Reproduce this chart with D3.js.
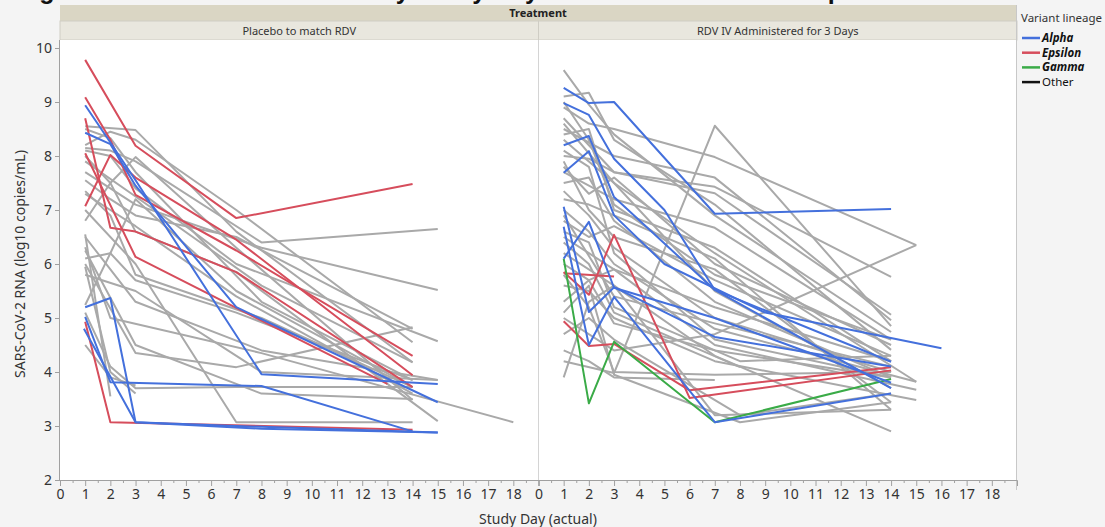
<!DOCTYPE html>
<html>
<head>
<meta charset="utf-8">
<script src="https://cdn.jsdelivr.net/npm/d3@7"></script>
<style>
  body { margin: 0; background: #f4f4f4; }
  svg { display: block; font-family: "Noto Sans", "Open Sans", sans-serif; }
</style>
</head>
<body>
<div id="chart"></div>
<script>
// axis ticks and labels
var dayTicks = d3.range(0, 19);
var rnaTicks = d3.range(2, 11);
var panelNames = ["Placebo to match RDV", "RDV IV Administered for 3 Days"];
var variantNames = ["Alpha", "Epsilon", "Gamma", "Other"];
var variantColors = ["#4470dc", "#d64d5c", "#3aab47", "#a9a9a9"];

// each subject: [study day, log10 copies/mL] pairs
var placeboAlpha = [
  [[1, 8.94], [2, 8.25], [3, 7.55], [8, 3.96], [15, 3.78]],
  [[1, 8.43], [2, 8.22], [3, 7.45], [7, 5.2], [15, 3.44]],
  [[1, 5.2], [2, 5.37], [3, 3.07], [7, 3.0], [15, 2.88]],
  [[1, 5.02], [2, 3.81], [8, 3.74], [14, 2.9]],
  [[0.95, 4.8], [3, 3.07], [8, 2.95], [15, 2.88]]
];

var placeboEpsilon = [
  [[1, 9.78], [3, 8.19], [7, 6.85], [14, 7.48]],
  [[1, 9.09], [2, 8.3], [3, 7.28], [7, 6.25], [14, 4.3]],
  [[1, 8.7], [2, 6.67], [3, 6.6], [7, 5.85], [14, 3.72]],
  [[1, 8.05], [3, 6.13], [8, 4.95], [13, 3.78]],
  [[1, 7.07], [2, 8.02], [3, 7.6], [7, 6.45], [14, 3.94]],
  [[1, 4.93], [2, 3.07], [14, 2.93]]
];

var placeboOther = [
  [[1, 8.55], [3, 8.48], [7, 6.6], [14, 4.18]],
  [[1, 8.5], [2, 8.33], [3, 7.7], [8, 5.3], [14, 3.85]],
  [[1, 8.15], [2, 8.1], [3, 7.9], [8, 6.4], [15, 6.65]],
  [[1, 8.1], [2, 8.0], [3, 7.4], [7, 6.0], [15, 4.57]],
  [[1, 7.7], [3, 7.1], [8, 6.3], [15, 5.52]],
  [[1, 7.55], [2, 7.2], [3, 6.9], [7, 6.5], [14, 4.8]],
  [[1, 7.35], [2, 6.9], [3, 5.8], [8, 5.0], [14, 3.72]],
  [[1, 6.8], [2, 7.5], [3, 7.98], [7, 6.3], [14, 3.48]],
  [[1, 6.5], [2, 5.9], [3, 5.3], [8, 4.4], [15, 3.85]],
  [[1, 6.31], [2, 5.0], [8, 4.35], [18, 3.07]],
  [[1, 6.1], [2, 6.2], [3, 5.7], [7, 5.1], [14, 3.85]],
  [[1, 5.95], [2, 4.0], [3, 3.6]],
  [[1, 5.24], [2, 6.2], [3, 7.2], [7, 5.5], [14, 3.72]],
  [[1, 6.0], [3, 4.35], [7, 4.09], [14, 4.83]],
  [[1, 5.1], [2, 4.1], [3, 3.7], [7, 3.72], [14, 3.72]],
  [[1, 7.0], [3, 6.0], [7, 3.07], [14, 3.07]],
  [[1, 6.55], [2, 3.55]],
  [[1, 8.0], [2, 7.5], [3, 6.6], [7, 5.85], [15, 3.09]],
  [[1, 7.9], [3, 7.25], [8, 5.6], [14, 4.18]],
  [[1, 5.8], [3, 5.5], [8, 4.0], [15, 3.85]],
  [[1, 6.25], [3, 4.5], [8, 3.6], [14, 3.5]],
  [[1, 4.5], [2, 3.9], [3, 3.75]],
  [[1, 7.3], [2, 7.0], [3, 6.7], [7, 5.4], [14, 3.6]],
  [[1, 8.2], [2, 8.45], [3, 8.3], [7, 7.0], [14, 4.55]]
];

var rdvAlpha = [
  [[1, 9.26], [2, 8.98], [3, 9.0], [7, 6.93], [14, 7.02]],
  [[1, 8.98], [2, 8.76], [3, 7.95], [5, 7.0], [7, 5.52], [14, 3.7]],
  [[1, 8.2], [2, 8.37], [3, 7.24], [7, 5.52], [14, 4.19]],
  [[1, 7.69], [2, 8.09], [3, 6.9], [5, 6.0], [9, 5.1], [16, 4.44]],
  [[1, 7.06], [2, 5.11], [3, 5.57], [7, 4.65], [14, 4.1]],
  [[1, 6.69], [2, 4.5], [3, 5.39], [7, 3.07], [14, 3.6]],
  [[1, 6.1], [2, 6.78], [3, 5.56], [7, 5.0], [14, 3.8]]
];

var rdvEpsilon = [
  [[1, 4.94], [2, 4.48], [3, 4.52], [6, 3.66], [14, 4.09]],
  [[1, 5.85], [2, 5.43], [3, 6.54], [6, 3.52], [14, 4.03]],
  [[1, 5.83], [3, 5.77]]
];

var rdvGamma = [
  [[1, 6.1], [2, 3.42], [3, 4.56], [7, 3.07], [14, 3.87]]
];

var rdvOther = [
  [[1, 9.59], [2, 8.95], [3, 8.4], [7, 6.9], [14, 4.74]],
  [[1, 9.1], [2, 9.17], [3, 8.3], [7, 7.1], [14, 4.41]],
  [[1, 8.9], [2, 8.6], [3, 8.5], [7, 7.98], [15, 6.35]],
  [[1, 8.7], [2, 8.2], [3, 7.7], [7, 7.43], [14, 5.76]],
  [[1, 8.5], [3, 8.0], [7, 7.6], [14, 4.96]],
  [[1, 8.4], [2, 8.5], [3, 7.0], [7, 6.3], [14, 4.2]],
  [[1, 8.0], [2, 7.95], [3, 7.7], [7, 7.31], [14, 5.06]],
  [[1, 7.9], [2, 7.0], [3, 6.5], [7, 5.9], [14, 3.44]],
  [[1, 7.7], [3, 7.2], [7, 6.67], [14, 4.6]],
  [[1, 7.5], [2, 7.6], [3, 6.8], [7, 5.3], [14, 3.9]],
  [[1, 7.35], [2, 6.9], [3, 6.3], [7, 5.0], [14, 4.0]],
  [[1, 7.2], [2, 7.1], [3, 6.9], [7, 6.1], [14, 3.3]],
  [[1, 7.0], [2, 6.6], [3, 6.0], [7, 4.8], [15, 3.82]],
  [[1, 6.8], [2, 6.5], [3, 6.7], [7, 5.7], [14, 4.3]],
  [[1, 6.5], [2, 6.2], [3, 5.9], [7, 4.5], [15, 3.67]],
  [[1, 6.4], [2, 6.0], [3, 5.1], [8, 4.09]],
  [[1, 6.2], [3, 5.6], [7, 4.3], [14, 2.9]],
  [[1, 6.0], [2, 5.7], [3, 5.9], [7, 5.2], [14, 4.2]],
  [[1, 5.6], [2, 5.5], [3, 5.0], [7, 4.2], [15, 3.48]],
  [[1, 5.3], [2, 5.7], [3, 4.9], [7, 4.4], [14, 3.9]],
  [[1, 5.1], [2, 5.6], [3, 3.95], [8, 3.07], [14, 3.44]],
  [[1, 4.7], [2, 5.0], [3, 4.6], [8, 3.2], [14, 3.6]],
  [[1, 4.4], [2, 4.2], [3, 3.9], [7, 3.85]],
  [[1, 4.2], [3, 3.98], [7, 8.56], [14, 4.85]],
  [[1, 5.0], [3, 4.4], [7, 4.7], [15, 6.35]],
  [[1, 8.3], [2, 7.9], [3, 7.5], [7, 5.5], [14, 3.7]],
  [[1, 7.8], [2, 7.3], [3, 7.6], [7, 6.0], [14, 4.5]],
  [[1, 6.9], [3, 5.4], [7, 4.9], [14, 4.1]],
  [[1, 6.6], [2, 6.4], [3, 5.2], [8, 4.2], [14, 4.3]],
  [[1, 8.1], [2, 7.8], [3, 6.2], [7, 4.6], [14, 3.9]],
  [[1, 5.8], [2, 5.2], [3, 4.0], [7, 3.95], [14, 4.0]],
  [[1, 3.9], [2, 5.3], [3, 5.6], [7, 3.2], [14, 3.3]],
  [[1, 9.0], [2, 8.3], [3, 7.1], [7, 5.8], [14, 4.6]],
  [[1, 8.6], [3, 7.5], [7, 6.2], [15, 3.82]]
];

var width = 1105,
  height = 527,
  plotTop = 40,
  plotBottom = 480,
  plotLeft = 60,
  plotRight = 1016;

var svg = d3
  .select("#chart")
  .append("svg")
  .attr("width", width)
  .attr("height", height);

var y = d3.scaleLinear().domain([2, 10]).range([480, 48]);
var xPanels = [
  d3.scaleLinear().domain([0, 19]).range([60, 538.5]),
  d3.scaleLinear().domain([0, 19]).range([538.5, 1017])
];

// cut-off figure title at the very top
svg
  .append("text")
  .attr("x", 17)
  .attr("y", -1)
  .attr("font-family", "Liberation Sans, Arial, sans-serif")
  .attr("font-weight", "bold")
  .attr("font-size", 25)
  .attr("fill", "#111")
  .text("Figure 4: Individual Viral Load by Study Day in Each Treatment Group");

// header bands
svg.append("rect")
  .attr("x", plotLeft).attr("y", 5)
  .attr("width", plotRight - plotLeft).attr("height", 16)
  .attr("fill", "#dad6c4");
svg.append("text")
  .attr("x", (plotLeft + plotRight) / 2).attr("y", 17)
  .attr("text-anchor", "middle")
  .attr("font-size", 11).attr("font-weight", "bold").attr("fill", "#222")
  .text("Treatment");

panelNames.forEach(function (name, i) {
  var x = xPanels[i];
  svg.append("rect")
    .attr("x", x.range()[0]).attr("y", 21)
    .attr("width", x.range()[1] - x.range()[0]).attr("height", 19)
    .attr("fill", "#e9e7de")
    .attr("stroke", "#cfcdc4");
  svg.append("text")
    .attr("x", (x.range()[0] + x.range()[1]) / 2).attr("y", 35)
    .attr("text-anchor", "middle")
    .attr("font-size", 11).attr("fill", "#333")
    .text(name);
});

// plot background
svg.append("rect")
  .attr("x", plotLeft).attr("y", plotTop)
  .attr("width", plotRight - plotLeft).attr("height", plotBottom - plotTop)
  .attr("fill", "#fff");

svg.append("clipPath").attr("id", "clip")
  .append("rect")
  .attr("x", plotLeft).attr("y", plotTop)
  .attr("width", plotRight - plotLeft).attr("height", plotBottom - plotTop);

// panel divider and right frame
svg.append("line")
  .attr("x1", 538.5).attr("x2", 538.5).attr("y1", plotTop).attr("y2", plotBottom)
  .attr("stroke", "#d4d4d4");
svg.append("line")
  .attr("x1", plotRight + 0.5).attr("x2", plotRight + 0.5).attr("y1", 5).attr("y2", 490)
  .attr("stroke", "#c8c8c8");

// y axis
var yAxis = svg.append("g")
  .attr("transform", "translate(" + plotLeft + ",0)")
  .call(d3.axisLeft(y).tickValues(rnaTicks).tickSize(5).tickFormat(d3.format("d")));
yAxis.select(".domain").remove();
svg.append("line")
  .attr("x1", plotLeft - 0.5).attr("x2", plotLeft - 0.5)
  .attr("y1", plotTop).attr("y2", plotBottom)
  .attr("stroke", "#a0a0a0");

// x axes, one per panel
xPanels.forEach(function (x) {
  var major = svg.append("g")
    .attr("transform", "translate(0," + plotBottom + ")")
    .call(d3.axisBottom(x).tickValues(dayTicks).tickSize(6).tickFormat(d3.format("d")));
  major.select(".domain").attr("stroke", "#a0a0a0");
  var minor = svg.append("g")
    .attr("transform", "translate(0," + plotBottom + ")")
    .call(d3.axisBottom(x).tickValues(d3.range(0.5, 18.6, 1)).tickSize(3).tickFormat(""));
  minor.select(".domain").remove();
});

svg.selectAll(".tick line").attr("stroke", "#a0a0a0");
svg.selectAll(".tick text")
  .attr("font-size", 14)
  .attr("fill", "#333")
  .attr("font-family", "Noto Sans, sans-serif");

// axis titles
svg.append("text")
  .attr("x", 538).attr("y", 524)
  .attr("text-anchor", "middle")
  .attr("font-size", 14).attr("fill", "#333")
  .text("Study Day (actual)");
svg.append("text")
  .attr("transform", "translate(25,264) rotate(-90)")
  .attr("text-anchor", "middle")
  .attr("font-size", 14).attr("fill", "#333")
  .text("SARS-CoV-2 RNA (log10 copies/mL)");

// subject lines, grey first so coloured ones sit on top
var groups = [
  { panel: 0, color: variantColors[3], data: placeboOther },
  { panel: 1, color: variantColors[3], data: rdvOther },
  { panel: 0, color: variantColors[1], data: placeboEpsilon },
  { panel: 1, color: variantColors[1], data: rdvEpsilon },
  { panel: 1, color: variantColors[2], data: rdvGamma },
  { panel: 0, color: variantColors[0], data: placeboAlpha },
  { panel: 1, color: variantColors[0], data: rdvAlpha }
];

var lines = svg.append("g").attr("clip-path", "url(#clip)");

groups.forEach(function (g) {
  var x = xPanels[g.panel];
  var line = d3.line()
    .x(function (d) { return x(d[0]); })
    .y(function (d) { return y(d[1]); });
  lines.append("g")
    .selectAll("path")
    .data(g.data)
    .enter()
    .append("path")
    .attr("d", line)
    .attr("fill", "none")
    .attr("stroke", g.color)
    .attr("stroke-width", 2)
    .attr("stroke-linejoin", "round");
});

// legend
var legend = svg.append("g").attr("transform", "translate(1021,0)");
legend.append("text")
  .attr("x", 0).attr("y", 22)
  .attr("font-size", 11.5).attr("fill", "#333")
  .text("Variant lineage");

var item = legend.selectAll(".item")
  .data(variantNames)
  .enter()
  .append("g")
  .attr("transform", function (d, i) { return "translate(0," + (38 + i * 14.7) + ")"; });

item.append("line")
  .attr("x1", 1).attr("x2", 19)
  .attr("stroke", function (d, i) { return i === 3 ? "#111" : variantColors[i]; })
  .attr("stroke-width", 2.5);

item.append("text")
  .attr("x", 21).attr("y", 4)
  .attr("font-size", 11.5)
  .attr("fill", "#111")
  .attr("font-weight", function (d) { return d === "Other" ? "normal" : "bold"; })
  .attr("font-style", function (d) { return d === "Other" ? "normal" : "italic"; })
  .text(function (d) { return d; });
</script>
</body>
</html>
